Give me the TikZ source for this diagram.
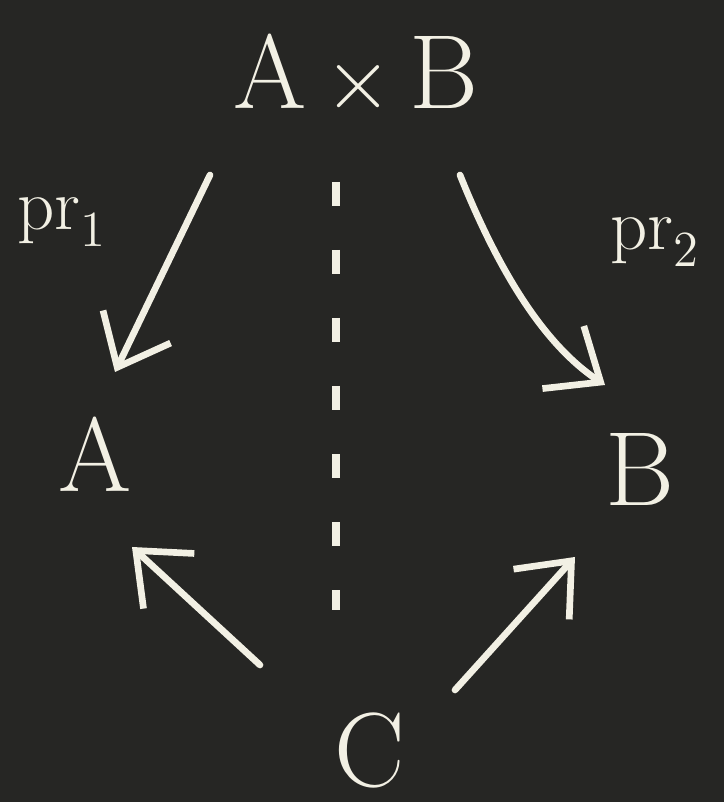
\documentclass[tikz,border=0pt]{standalone}
\usetikzlibrary{arrows.meta}
\definecolor{board}{RGB}{38,38,36}
\definecolor{chalk}{RGB}{242,240,228}
\begin{document}
\begin{tikzpicture}[x=1cm,y=1cm,
  obj/.style={text=chalk,font=\fontsize{30}{34}\selectfont,inner sep=1pt},
  lbl/.style={text=chalk,font=\fontsize{20}{24}\selectfont},
  arr/.style={draw=chalk,line width=1.9pt,line cap=round,
    -{Straight Barb[length=4.5mm,width=7.5mm,line width=1.9pt]}},
  vdash/.style={draw=chalk,line width=2.2pt,dash pattern=on 0.24cm off 0.44cm}]
\fill[board] (0,0) rectangle (7.24,8.02);
\useasboundingbox (0,0) rectangle (7.24,8.02);
\node[obj] (ab) at (3.56,7.27) {A\,$\times$\,B};
\node[obj] (a) at (0.95,3.48) {A};
\node[obj] (b) at (6.40,3.33) {B};
\node[obj] (c) at (3.70,0.52) {C};
\coordinate (d1) at (3.36,6.20);
\coordinate (d2) at (3.36,1.92);
\coordinate (s1) at (2.10,6.27);
\coordinate (e1) at (1.15,4.30);
\coordinate (s2) at (4.60,6.27);
\coordinate (e2) at (6.05,4.17);
\coordinate (s3) at (2.60,1.37);
\coordinate (e3) at (1.32,2.55);
\coordinate (s4) at (4.55,1.12);
\coordinate (e4) at (5.75,2.45);
\draw[arr] (s1) -- (e1);
\draw[arr] (s2) .. controls (4.95,5.40) and (5.40,4.60) .. (e2);
\draw[arr] (s3) -- (e3);
\draw[arr] (s4) -- (e4);
\draw[vdash] (d1) -- (d2);
\node[lbl] (p1) at (0.62,5.80) {$\mathrm{pr}_1$};
\node[lbl] (p2) at (6.55,5.60) {$\mathrm{pr}_2$};
\end{tikzpicture}
\end{document}
